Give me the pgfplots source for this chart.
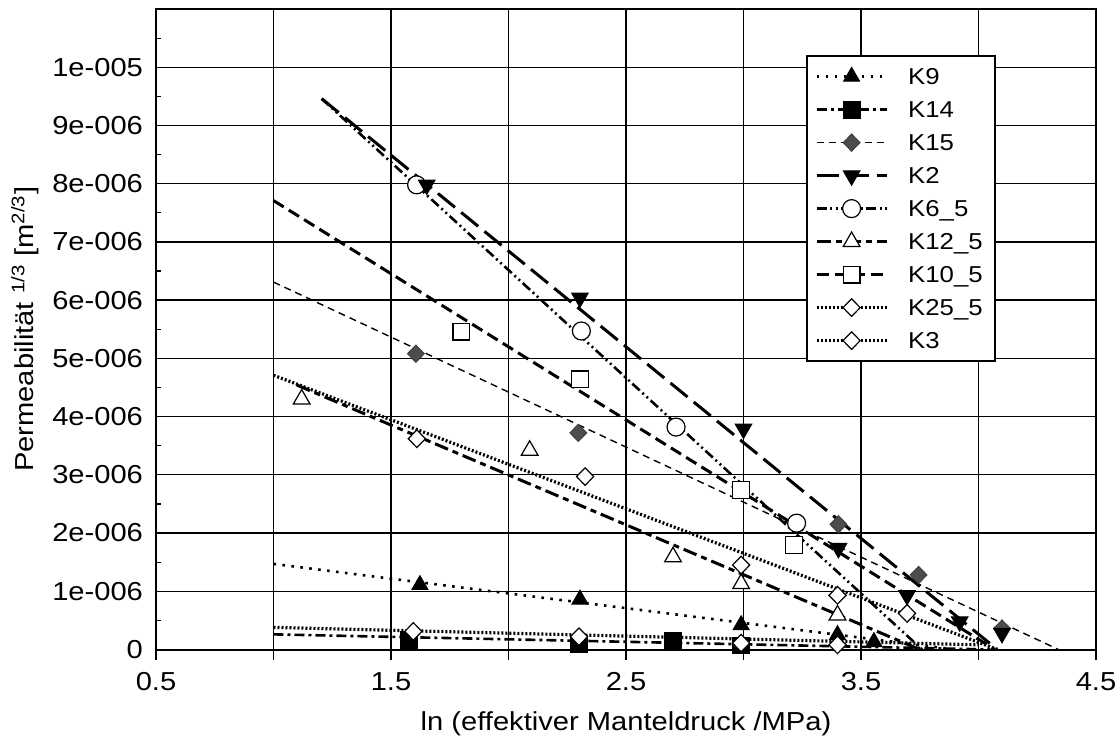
\documentclass[border=0pt]{standalone}
\usepackage{fontspec}
\setmainfont{Liberation Sans}[FakeStretch=1.12]
\usepackage{pgfplots}
\pgfplotsset{compat=1.18}

% line styles of the regression lines
\pgfplotsset{
  lK9/.style={black, line width=1.3pt, dash pattern=on 1.3pt off 3.2pt},
  lK14/.style={black, line width=1.3pt, dash pattern=on 5pt off 2pt on 1.5pt off 2pt},
  lK15/.style={black, line width=0.7pt, dash pattern=on 3.5pt off 2.5pt},
  lK2/.style={black, line width=1.5pt, dash pattern=on 11pt off 4pt},
  lK6/.style={black, line width=1.3pt, dash pattern=on 5pt off 1.8pt on 1pt off 1.8pt on 1pt off 1.8pt},
  lK12/.style={black, line width=1.5pt, dash pattern=on 7pt off 2.5pt on 3pt off 2.5pt},
  lK10/.style={black, line width=1.5pt, dash pattern=on 6pt off 3pt},
  lK25/.style={black, line width=1.6pt, dash pattern=on 1pt off 1pt},
  lK3/.style={black, line width=1.6pt, dash pattern=on 1pt off 1pt},
  % marker styles of the measured points
  mK9/.style={mark=triangle*, mark options={solid, draw=black, fill=black, line width=0.5pt, mark size=4.6pt}},
  mK14/.style={mark=square*, mark options={solid, draw=black, fill=black, line width=0.5pt, mark size=4.2pt}},
  mK15/.style={mark=diamond*, mark options={solid, xscale=1.3, draw=black!75, fill=black!70, line width=0.5pt, mark size=4.3pt}},
  mK2/.style={mark=triangle*, mark options={solid, rotate=180, draw=black, fill=black, line width=0.5pt, mark size=4.8pt}},
  mK6/.style={mark=*, mark options={solid, draw=black, fill=white, line width=0.6pt, mark size=4.5pt}},
  mK12/.style={mark=triangle*, mark options={solid, draw=black, fill=white, line width=0.6pt, mark size=4.8pt}},
  mK10/.style={mark=square*, mark options={solid, draw=black, fill=white, line width=0.6pt, mark size=4.2pt}},
  mK25/.style={mark=diamond*, mark options={solid, xscale=1.3, draw=black, fill=white, line width=0.6pt, mark size=4.4pt}},
}

\begin{document}
\begin{tikzpicture}
\useasboundingbox (-78pt,-47.25pt) rectangle (481pt,324.75pt);
\begin{axis}[
  at={(0,0)}, anchor=south west,
  scale only axis, width=470pt, height=320.25pt,
  xmin=0.5, xmax=4.5, ymin=0, ymax=1.1e-5,
  xtick={0.5,1,1.5,2,2.5,3,3.5,4,4.5},
  xticklabels={0.5,,1.5,,2.5,,3.5,,4.5},
  ytick={0,1e-6,2e-6,3e-6,4e-6,5e-6,6e-6,7e-6,8e-6,9e-6,1e-5},
  yticklabels={0,1e-006,2e-006,3e-006,4e-006,5e-006,6e-006,7e-006,8e-006,9e-006,1e-005},
  minor ytick={5e-7,1.5e-6,2.5e-6,3.5e-6,4.5e-6,5.5e-6,6.5e-6,7.5e-6,8.5e-6,9.5e-6,1.05e-5},
  scaled y ticks=false, scaled x ticks=false,
  xtick pos=left, ytick pos=left,
  major tick length=5pt, minor tick length=2.5pt,
  x tick style={black, line width=0.6pt, yshift=-5pt},
  y tick style={black, line width=0.6pt},
  grid=major,
  major grid style={black, line width=0.65pt},
  axis line style={black, line width=1pt},
  ticklabel style={font=\fontsize{13}{15}\selectfont},
  xticklabel style={yshift=-8pt},
  yticklabel style={xshift=-3pt},
  every axis x label/.style={at={(axis description cs:0.5,-0.1163)}, anchor=center,
    font=\fontsize{13}{15}\selectfont},
  every axis y label/.style={at={(axis description cs:-0.1394,0.5)}, rotate=90, anchor=center,
    font=\fontsize{13}{15}\selectfont},
  xlabel={ln (effektiver Manteldruck /MPa)},
  ylabel={Permeabilität \textsuperscript{1/3} [m\textsuperscript{2/3}]},
  legend image code/.code={\draw[mark repeat=2, mark phase=2, #1] plot coordinates {(0pt,0pt) (17.5pt,0pt) (35pt,0pt)};},
  legend style={at={(0.6915,0.928)}, anchor=north west, draw=black, line width=1pt,
    font=\fontsize{11.5}{13}\selectfont, inner xsep=4pt, inner ysep=2pt, row sep=0pt,
    nodes={text height=11pt, text depth=3.5pt, inner ysep=1pt},
    /tikz/every odd column/.append style={column sep=8pt}},
  legend cell align=left,
  clip=true,
]
% regression lines
\addplot[lK9, forget plot] coordinates {(1.0,1.47e-6) (3.90,0)};
\addplot[lK14, forget plot] coordinates {(1.0,0.26e-6) (4.05,0)};
\addplot[lK15, forget plot] coordinates {(1.0,6.31e-6) (4.34,0)};
\addplot[lK2, forget plot] coordinates {(1.205,9.46e-6) (4.08,0)};
\addplot[lK6, forget plot] coordinates {(1.205,9.46e-6) (3.76,0)};
\addplot[lK12, forget plot] coordinates {(1.10,4.54e-6) (3.75,0)};
\addplot[lK10, forget plot] coordinates {(1.0,7.71e-6) (4.07,0)};
\addplot[lK25, forget plot] coordinates {(1.0,4.71e-6) (4.08,0)};
\addplot[lK3, forget plot] coordinates {(1.0,0.38e-6) (4.0,0.08e-6)};

% measured points
\addplot[only marks, mK9, forget plot] coordinates {(1.623,1.11e-6) (2.304,0.86e-6) (2.99,0.42e-6) (3.40,0.25e-6) (3.555,0.13e-6)};
\addplot[only marks, mK14, forget plot] coordinates {(1.575,0.17e-6) (2.30,0.10e-6) (2.70,0.14e-6) (2.99,0.07e-6)};
\addplot[only marks, mK15, forget plot] coordinates {(1.606,5.08e-6) (2.297,3.72e-6) (3.404,2.15e-6) (3.745,1.28e-6) (4.10,0.36e-6)};
\addplot[only marks, mK12, forget plot] coordinates {(1.12,4.30e-6) (2.09,3.42e-6) (2.70,1.59e-6) (2.99,1.13e-6) (3.40,0.59e-6)};
\addplot[only marks, mK10, forget plot] coordinates {(1.80,5.46e-6) (2.304,4.64e-6) (2.99,2.74e-6) (3.215,1.79e-6)};
\addplot[only marks, mK25, forget plot] coordinates {(1.61,3.62e-6) (2.326,2.97e-6) (2.99,1.45e-6) (3.40,0.93e-6) (3.696,0.62e-6)};
\addplot[only marks, mK25, forget plot] coordinates {(1.595,0.31e-6) (2.30,0.22e-6) (2.99,0.11e-6) (3.40,0.08e-6)};
\addplot[only marks, mK6, forget plot] coordinates {(1.609,7.98e-6) (2.31,5.47e-6) (2.713,3.82e-6) (3.226,2.17e-6)};
\addplot[only marks, mK2, forget plot] coordinates {(1.652,7.98e-6) (2.304,6.04e-6) (3.0,3.79e-6) (3.404,1.74e-6) (3.696,0.93e-6) (3.92,0.48e-6) (4.10,0.28e-6)};

% legend
\addlegendimage{lK9, mK9}\addlegendentry{K9}
\addlegendimage{lK14, mK14}\addlegendentry{K14}
\addlegendimage{lK15, mK15}\addlegendentry{K15}
\addlegendimage{lK2, mK2}\addlegendentry{K2}
\addlegendimage{lK6, mK6}\addlegendentry{K6\_5}
\addlegendimage{lK12, mK12}\addlegendentry{K12\_5}
\addlegendimage{lK10, mK10}\addlegendentry{K10\_5}
\addlegendimage{lK25, mK25}\addlegendentry{K25\_5}
\addlegendimage{lK3, mK25}\addlegendentry{K3}
\end{axis}
\end{tikzpicture}
\end{document}
